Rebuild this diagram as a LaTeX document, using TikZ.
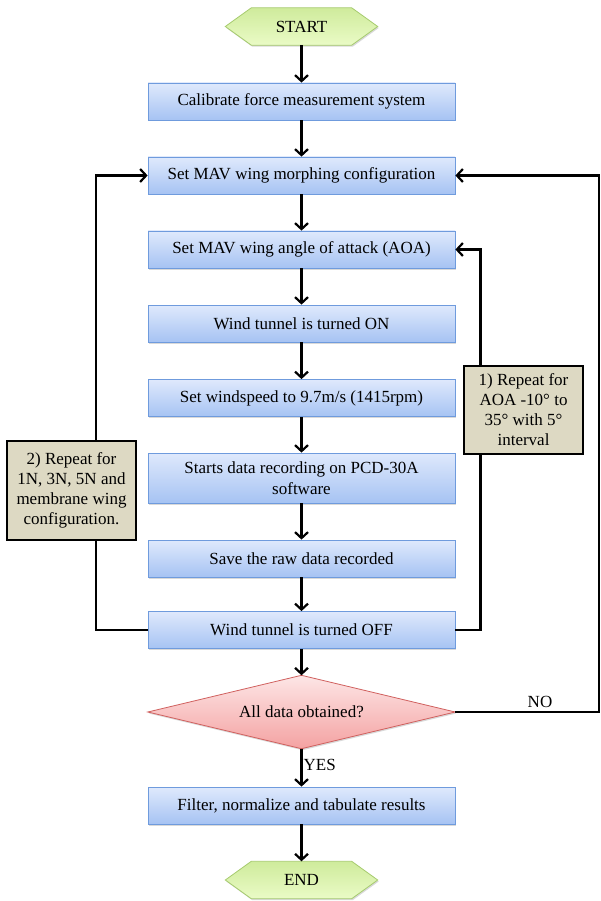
\documentclass[tikz,border=0pt]{standalone}
\usepackage{fontspec}
\setmainfont{Liberation Serif}
\usetikzlibrary{arrows.meta,shapes.geometric,shadows,backgrounds}
\definecolor{bluetop}{HTML}{DFE9FC}
\definecolor{bluebot}{HTML}{A6C3F3}
\definecolor{blueedge}{HTML}{6F9BDD}
\definecolor{greentop}{HTML}{CFEB9C}
\definecolor{greenbot}{HTML}{EAFBC6}
\definecolor{greenedge}{HTML}{A6CB6E}
\definecolor{redtop}{HTML}{FDE6E6}
\definecolor{redbot}{HTML}{F4A2A2}
\definecolor{rededge}{HTML}{D0605E}
\definecolor{notefill}{HTML}{DDD9C3}
\begin{document}
\begin{tikzpicture}[x=1pt,y=-1pt,
  font=\fontsize{17}{20}\selectfont,
  myshadow/.style={drop shadow={shadow xshift=1pt, shadow yshift=-1.5pt, opacity=0.3}},
  proc/.style={rectangle, draw=blueedge, line width=0.8pt, top color=bluetop, bottom color=bluebot,
    minimum width=307pt, minimum height=37pt, inner sep=0pt, align=center, myshadow},
  terminal/.style={rectangle, minimum width=100pt, minimum height=37pt, inner sep=0pt},
  hexfill/.style={top color=greentop, bottom color=greenbot, draw=greenedge, line width=0.8pt, myshadow},
  decision/.style={rectangle, minimum width=307pt, minimum height=73pt, inner sep=0pt},
  diafill/.style={draw=rededge, line width=0.8pt, top color=redtop, bottom color=redbot, myshadow},
  note/.style={rectangle, draw=black, line width=2pt, fill=notefill, align=center, inner sep=0pt},
  arr/.style={line width=2.2pt, -{Straight Barb[length=6pt,width=13pt]}},
  lbl/.style={inner sep=1pt}
]
\useasboundingbox (0,0) rectangle (601,901);

\node[terminal] (start) at (301.5,26.5) {START};
\node[proc] (calib) at (301.5,101.5) {Calibrate force measurement system};
\node[proc] (morph) at (301.5,175.5) {Set MAV wing morphing configuration};
\node[proc] (aoa) at (301.5,249.5) {Set MAV wing angle of attack (AOA)};
\node[proc] (on) at (301.5,323.5) {Wind tunnel is turned ON};
\node[proc] (wind) at (301.5,398) {Set windspeed to 9.7m/s (1415rpm)};
\node[proc, minimum height=50pt, font=\fontsize{17}{21.5}\selectfont] (rec) at (301.5,478) {Starts data recording on PCD-30A\\software};
\node[proc] (save) at (301.5,558.5) {Save the raw data recorded};
\node[proc] (off) at (301.5,630) {Wind tunnel is turned OFF};
\node[decision] (dec) at (301.5,712) {All data obtained?};
\node[proc] (filter) at (301.5,805.5) {Filter, normalize and tabulate results};
\node[terminal] (end) at (301.5,880) {END};

\begin{scope}[on background layer]
  \shade[hexfill] (start.north west) -- (start.north east) -- ([xshift=26pt]start.east)
    -- (start.south east) -- (start.south west) -- ([xshift=-26pt]start.west) -- cycle;
  \shade[hexfill] (end.north west) -- (end.north east) -- ([xshift=26pt]end.east)
    -- (end.south east) -- (end.south west) -- ([xshift=-26pt]end.west) -- cycle;
  \shade[diafill] (dec.north) -- (dec.east) -- (dec.south) -- (dec.west) -- cycle;
\end{scope}

\draw[arr] (start.south) -- (calib.north);
\draw[arr] (calib.south) -- (morph.north);
\draw[arr] (morph.south) -- (aoa.north);
\draw[arr] (aoa.south) -- (on.north);
\draw[arr] (on.south) -- (wind.north);
\draw[arr] (wind.south) -- (rec.north);
\draw[arr] (rec.south) -- (save.north);
\draw[arr] (save.south) -- (off.north);
\draw[arr] (off.south) -- (dec.north);
\draw[arr] (dec.south) -- node[lbl, right, pos=0.42] (yes) {YES} (filter.north);
\draw[arr] (filter.south) -- (end.north);

\draw[arr] (off.east) -- ++(25,0) |- (aoa.east);
\draw[arr] (off.west) -- ++(-52,0) |- (morph.west);
\draw[arr] (dec.east) -- ++(144,0) coordinate (nocorner) |- (morph.east);
\node[lbl] (no) at (540,702) {NO};

\node[note, minimum width=119pt, minimum height=88pt] (note1) at (523.5,410)
  {1) Repeat for\\AOA -10° to\\35° with 5°\\interval};
\node[note, minimum width=129pt, minimum height=99pt] (note2) at (71.5,490.5)
  {2) Repeat for\\1N, 3N, 5N and\\membrane wing\\configuration.};
\end{tikzpicture}
\end{document}
